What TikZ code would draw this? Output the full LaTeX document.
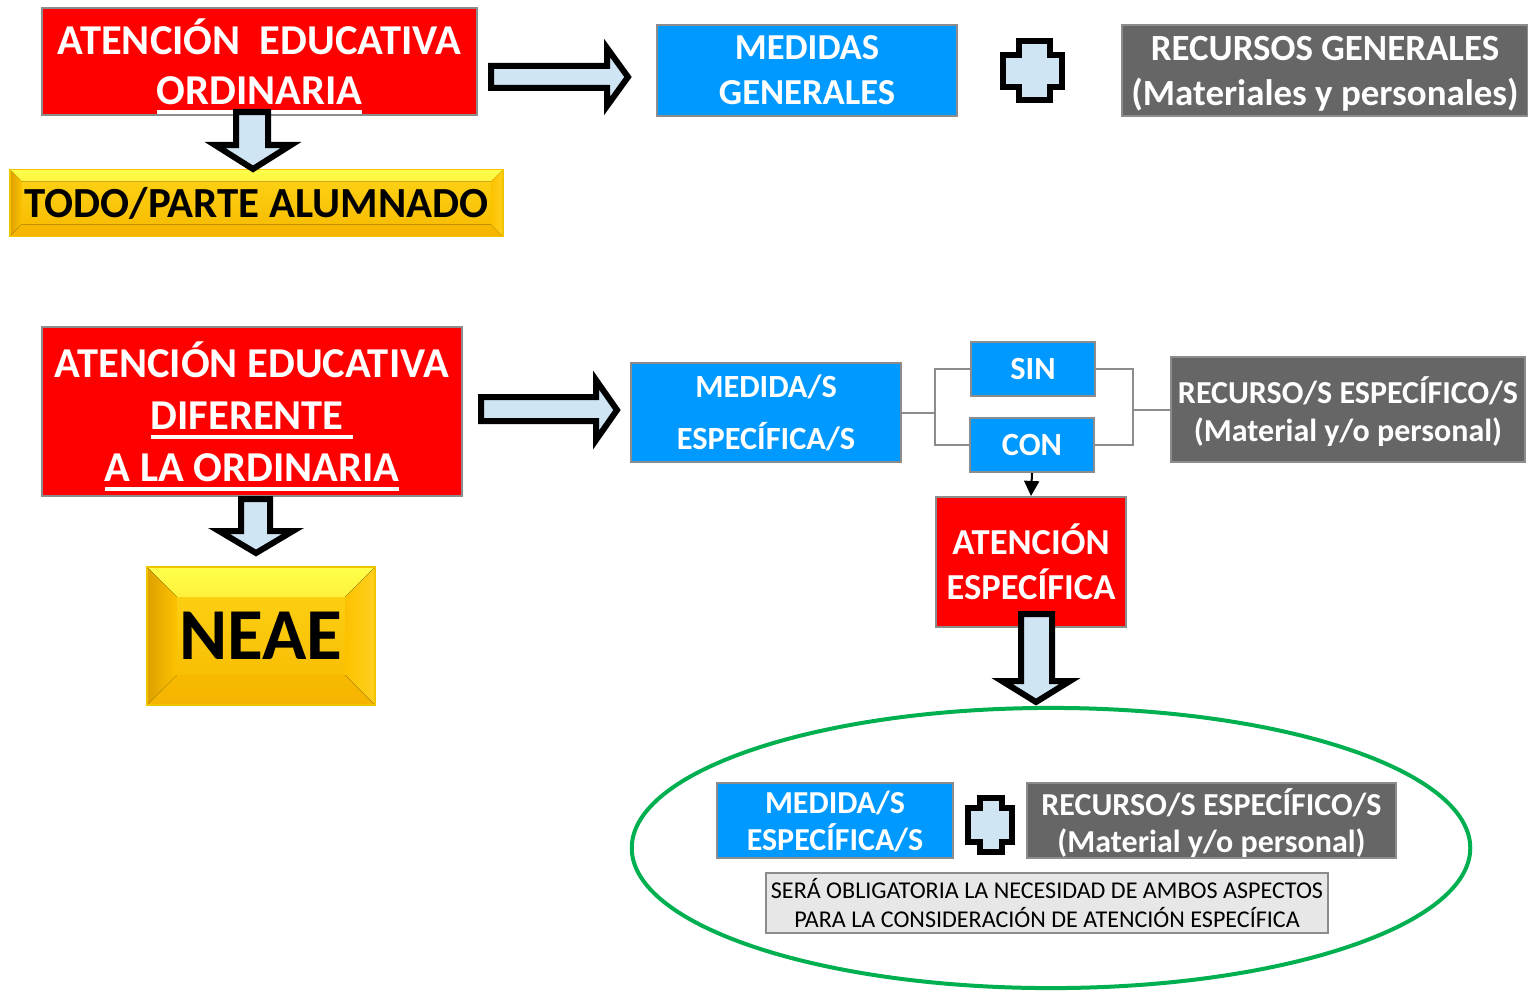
\documentclass[tikz,border=0pt]{standalone}
\usepackage{fontspec}
\setmainfont{Carlito}
\usetikzlibrary{arrows.meta}
\definecolor{rojo}{HTML}{FF0000}
\definecolor{azul}{HTML}{0099FF}
\definecolor{gris}{HTML}{666666}
\definecolor{borde}{HTML}{8C8C8C}
\definecolor{celeste}{HTML}{CFE5F3}
\definecolor{verde}{HTML}{00B050}
\definecolor{nota}{HTML}{E7E7E7}
\definecolor{oromedio}{HTML}{FCC200}
\definecolor{orobajo}{HTML}{F7B900}
\definecolor{oroclaro}{HTML}{FFFF4A}
\definecolor{orooscuro}{HTML}{DDA000}
\definecolor{ororojo}{HTML}{F4B300}
\definecolor{orovivo}{HTML}{FFD020}
\definecolor{oroborde}{HTML}{F2C400}
\newcommand\subr[1]{\setbox0\hbox{#1}\rlap{\rule[-0.095cm]{\wd0}{0.035cm}}\box0}
\newcommand\tam[2]{\fontsize{#1}{#2}\selectfont}
\tikzset{
  caja/.style={draw=borde, line width=0.02cm, inner sep=0pt, align=center},
  redbox/.style={caja, fill=rojo, text=white},
  bluebox/.style={caja, fill=azul, text=white},
  greybox/.style={caja, fill=gris, text=white},
  notebox/.style={caja, fill=nota, text=black},
  goldbox/.style={draw=oroborde, line width=0.015cm, inner sep=0pt, align=center,
    top color=oromedio!70!oroclaro, bottom color=orobajo, text=black,
    path picture={
      \fill[top color=oroclaro, bottom color=oromedio] (path picture bounding box.north west) -- (path picture bounding box.north east)
        -- ([xshift=-#1,yshift=-#1]path picture bounding box.north east)
        -- ([xshift=#1,yshift=-#1]path picture bounding box.north west) -- cycle;
      \fill[left color=orooscuro, right color=oromedio] (path picture bounding box.north west)
        -- ([xshift=#1,yshift=-#1]path picture bounding box.north west)
        -- ([xshift=#1,yshift=#1]path picture bounding box.south west)
        -- (path picture bounding box.south west) -- cycle;
      \fill[top color=orobajo, bottom color=ororojo] (path picture bounding box.south west)
        -- ([xshift=#1,yshift=#1]path picture bounding box.south west)
        -- ([xshift=-#1,yshift=#1]path picture bounding box.south east)
        -- (path picture bounding box.south east) -- cycle;
      \fill[left color=oromedio, right color=orovivo] (path picture bounding box.north east)
        -- ([xshift=-#1,yshift=-#1]path picture bounding box.north east)
        -- ([xshift=-#1,yshift=#1]path picture bounding box.south east)
        -- (path picture bounding box.south east) -- cycle;
    }},
  blockarrow/.style={draw=black, fill=celeste, line width=0.06cm, line join=miter},
  conn/.style={draw=borde, line width=0.02cm},
  flecha/.style={-{Triangle[length=0.15cm,width=0.15cm]}, line width=0.02cm, black}
}
\begin{document}
\begin{tikzpicture}[x=0.01cm, y=-0.01cm]
    \useasboundingbox (0,0) rectangle (1528,991);
    \node[redbox, text depth=0pt, minimum width=4.35cm, minimum height=1.07cm, font=\bfseries\tam{12.1pt}{14.2pt}] (aeo) at (259.5,61.5) {ATENCIÓN\ \ EDUCATIVA\\\subr{ORDINARIA}};
    \node[goldbox=0.12cm, minimum width=4.93cm, minimum height=0.67cm, font=\bfseries\tam{12.2pt}{14pt}] (todo) at (256.5,203) {TODO/PARTE ALUMNADO};
    \node[bluebox, text depth=0pt, minimum width=3cm, minimum height=0.91cm, font=\bfseries\tam{10.4pt}{12.8pt}] (medgen) at (807,70.5) {MEDIDAS\\GENERALES};
    \node[greybox, text depth=0pt, minimum width=4.06cm, minimum height=0.91cm, font=\bfseries\tam{10.5pt}{12.8pt}] (recgen) at (1325,70.5) {RECURSOS GENERALES\\(Materiales y personales)};
    \node[redbox, text depth=0pt, minimum width=4.2cm, minimum height=1.69cm, font=\bfseries\tam{12.1pt}{14.8pt}] (aed) at (252,411.5) {ATENCIÓN EDUCATIVA\\\subr{DIFERENTE\ }\\\subr{A LA ORDINARIA}};
    \node[goldbox=0.3cm, minimum width=2.28cm, minimum height=1.38cm, font=\bfseries\tam{20.8pt}{24pt}] (neae) at (261,636) {NEAE};
    \node[bluebox, minimum width=2.7cm, minimum height=0.99cm, font=\bfseries\tam{9.2pt}{14.8pt}] (medesp) at (766,412.5) {MEDIDA/S\\ESPECÍFICA/S};
    \node[bluebox, minimum width=1.24cm, minimum height=0.54cm, font=\bfseries\tam{9.2pt}{11pt}] (sin) at (1033,369) {SIN};
    \node[bluebox, minimum width=1.24cm, minimum height=0.54cm, font=\bfseries\tam{9.2pt}{11pt}] (con) at (1032,445) {CON};
    \node[greybox, text depth=0pt, minimum width=3.54cm, minimum height=1.05cm, font=\bfseries\tam{9.1pt}{10.8pt}] (recesp) at (1348,409.5) {RECURSO/S ESPECÍFICO/S\\(Material y/o personal)};
    \node[redbox, minimum width=1.9cm, minimum height=1.3cm, font=\bfseries\tam{10.4pt}{12.8pt}] (atesp) at (1031,562) {ATENCIÓN\\ESPECÍFICA};
    \coordinate (ja) at (935,412.5);
    \coordinate (jb) at (1133,409.5);
    \draw[conn] (medesp.east) -- (ja);
    \draw[conn] (sin.west) -| (ja) |- (con.west);
    \draw[conn] (sin.east) -| (jb) |- (con.east);
    \draw[conn] (jb) -- (recesp.west);
    \draw[flecha] (con.south) -- (atesp.north);
    \draw[verde, line width=0.04cm] (1051,848) ellipse [x radius=4.19cm, y radius=1.4cm];
    \node[bluebox, text depth=0pt, minimum width=2.36cm, minimum height=0.75cm, font=\bfseries\tam{9.1pt}{10.5pt}] (medesp2) at (835,820.5) {MEDIDA/S\\ESPECÍFICA/S};
    \node[greybox, text depth=0pt, minimum width=3.69cm, minimum height=0.75cm, font=\bfseries\tam{9.1pt}{10.5pt}] (recesp2) at (1211.5,820.5) {RECURSO/S ESPECÍFICO/S\\(Material y/o personal)};
    \node[notebox, minimum width=5.62cm, minimum height=0.6cm, font=\tam{6.85pt}{8.25pt}] (nota) at (1047,903) {SERÁ OBLIGATORIA LA NECESIDAD DE AMBOS ASPECTOS\\PARA LA CONSIDERACIÓN DE ATENCIÓN ESPECÍFICA};
    \draw[blockarrow] (491,66) -- (607,66) -- (607,48) -- (628,77) -- (607,106) -- (607,88) -- (491,88) -- cycle;
    \draw[blockarrow] (236,112) -- (268,112) -- (268,145) -- (291,145) -- (253,169) -- (215,145) -- (236,145) -- cycle;
    \draw[blockarrow] (481,397) -- (596,397) -- (596,380) -- (617,410) -- (596,440) -- (596,421) -- (481,421) -- cycle;
    \draw[blockarrow] (241,499) -- (270,499) -- (270,531) -- (293,531) -- (256,553) -- (219,531) -- (241,531) -- cycle;
    \draw[blockarrow] (1021,614) -- (1052,614) -- (1052,681) -- (1070,681) -- (1036,702) -- (1002,681) -- (1021,681) -- cycle;
    \draw[blockarrow] (1019,41) -- (1050,41) -- (1050,55) -- (1062,55) -- (1062,87) -- (1050,87) -- (1050,100) -- (1019,100) -- (1019,87) -- (1003,87) -- (1003,55) -- (1019,55) -- cycle;
    \draw[blockarrow] (980,798) -- (1002,798) -- (1002,808) -- (1012,808) -- (1012,842) -- (1002,842) -- (1002,852) -- (980,852) -- (980,842) -- (968,842) -- (968,808) -- (980,808) -- cycle;
\end{tikzpicture}
\end{document}
